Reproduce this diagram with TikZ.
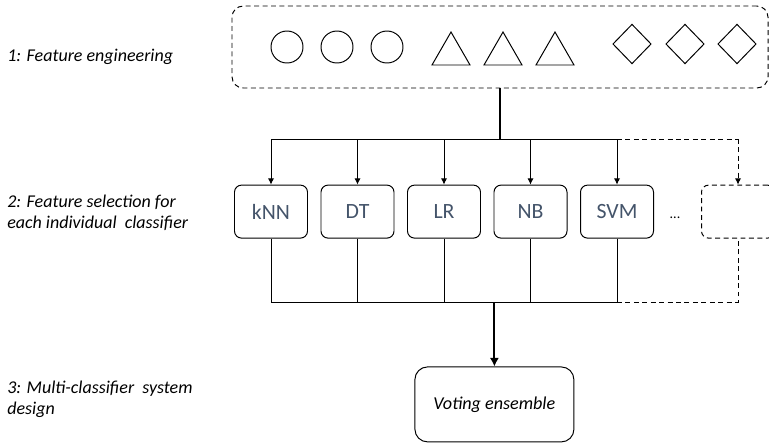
\documentclass[tikz,border=0pt]{standalone}
\usepackage{fontspec}
\setmainfont{Carlito}
\usetikzlibrary{arrows.meta}
\definecolor{slate}{HTML}{44546A}
\tikzset{
  arr/.style={line width=0.7pt, -{Latex[length=4.5pt, width=4.5pt]}},
  big/.style={line width=1.4pt, -{Latex[length=6pt, width=6.5pt]}},
  dsh/.style={line width=0.7pt, dash pattern=on 3.5pt off 2.5pt},
  lbl/.style={font=\fontsize{12.8}{15}\selectfont\itshape, align=left, anchor=west, inner sep=0pt},
  clf/.style={draw, line width=0.7pt, rounded corners=5pt, minimum width=1.825cm, minimum height=1.325cm,
    font=\fontsize{15.5}{18}\selectfont, text=slate},
  vote/.style={draw, line width=0.7pt, rounded corners=9pt, minimum width=3.975cm, minimum height=1.875cm,
    font=\fontsize{12.9}{15}\selectfont\itshape},
}
\def\yC{-5.29}

\begin{document}
\begin{tikzpicture}
\useasboundingbox (0,0) rectangle (19.225,-11.075);

% step labels on the left
\node[lbl] (step1) at (0.175,-1.425) {1: Feature engineering};
\node[lbl] (step2) at (0.175,-5.31) {2: Feature selection for\\each individual\ \ classifier};
\node[lbl] (step3) at (0.175,-9.99) {3: Multi-classifier\ \ system\\design};

% feature pool
\node[draw, dsh, rounded corners=8pt, minimum width=13.4cm, minimum height=2.05cm] (pool) at (12.5,-1.175) {};
\foreach \x in {7.175,8.425,9.675} \draw[line width=0.7pt] (\x,-1.175) circle (0.4);
\foreach \x in {11.275,12.575,13.875} \draw[line width=0.7pt] (\x-0.475,-1.625) -- (\x+0.475,-1.625) -- (\x,-0.8) -- cycle;
\foreach \x in {15.8,17.125,18.425} \draw[line width=0.7pt] (\x-0.475,-1.1) -- (\x,-0.61) -- (\x+0.475,-1.1) -- (\x,-1.59) -- cycle;

% classifiers
\foreach \n/\t [count=\i from 0] in {knn/kNN, dt/DT, lr/LR, nb/NB, svm/SVM}
  \node[clf] (\n) at (6.775+2.1625*\i,\yC) {\t};
\node[clf, dsh] (more) at (18.45,\yC) {};
\node (dots) at (16.875,-5.45) {...};

% split to the classifiers
\coordinate (busA) at (12.5,-3.475);
\draw[line width=1.4pt] (pool.south) -- (busA);
\draw[line width=0.7pt] (knn.north |- busA) -- (svm.north |- busA);
\draw[dsh] (svm.north |- busA) -- (more.north |- busA);
\foreach \n in {knn,dt,lr,nb,svm} \draw[arr] (\n.north |- busA) -- (\n.north);
\draw[arr, dsh] (more.north |- busA) -- (more.north);

% merge into the ensemble
\node[vote] (ens) at (12.36,-10.11) {Voting ensemble};
\coordinate (busB) at (12.36,-7.55);
\foreach \n in {knn,dt,lr,nb,svm} \draw[line width=0.7pt] (\n.south) -- (\n.south |- busB);
\draw[line width=0.7pt] (knn.south |- busB) -- (svm.south |- busB);
\draw[dsh] (svm.south |- busB) -- (more.south |- busB) -- (more.south);
\draw[big] (busB) -- (ens.north);

\end{tikzpicture}
\end{document}
